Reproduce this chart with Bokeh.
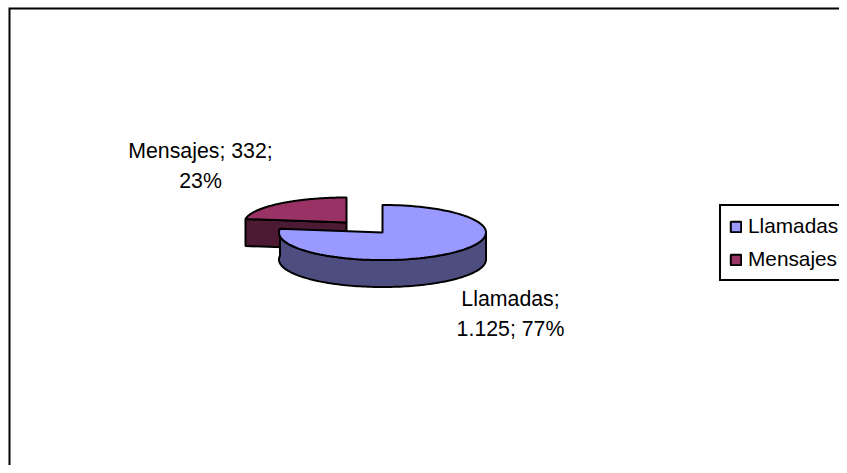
import numpy as np
from bokeh.embed import file_html
from bokeh.resources import INLINE
from bokeh.plotting import figure
from bokeh.models import Legend, LegendItem, Range1d
from bokeh.core.properties import value

categories = ["Llamadas", "Mensajes"]
values = [1125, 332]
top_colors = ["#9999FF", "#993366"]
side_colors = ["#4D4D80", "#4D1A33"]
label_lines = [["Llamadas;", "1.125; 77%"], ["Mensajes; 332;", "23%"]]

W, H = 839, 465
FONT = "Liberation Sans"
p = figure(width=W, height=H, output_backend="svg", toolbar_location=None,
           x_range=Range1d(0, W), y_range=Range1d(H, 0),
           min_border=0, outline_line_color=None, background_fill_color="white")
p.xaxis.visible = False
p.yaxis.visible = False
p.grid.visible = False

share = values[0] / sum(values)
split = 2 * np.pi * share


def rim(cx, cy, rx, ry, a0, a1, n=120):
    t = np.linspace(a0, a1, n)
    return cx + rx * np.sin(t), cy - ry * np.cos(t)


RX, RY, DEPTH = 103.5, 27.5, 27
bc = (382, 232)
rc = (346, 222)
rrx, rry = 102, 25

# chart frame (only top and left edges fall inside the picture)
p.line([9, 9, W], [H, 8, 8], line_color="black", line_width=2, line_join="miter")

# exploded small slice: side face then top
lx, ly = rim(rc[0], rc[1], rrx, rry, split, split, 1)
p.patch([lx[0], rc[0], rc[0], lx[0]], [ly[0], rc[1], rc[1] + DEPTH, ly[0] + DEPTH],
        fill_color=side_colors[1], line_color="black", line_width=2)
sx, sy = rim(rc[0], rc[1], rrx, rry, split, 2 * np.pi)
red = p.patch(np.r_[rc[0], sx], np.r_[rc[1], sy], fill_color=top_colors[1],
              line_color="black", line_width=2)

# large slice: rim then top
ox, oy = rim(bc[0], bc[1], RX, RY, np.pi / 2, split)
p.patch(np.r_[ox, ox[::-1]], np.r_[oy, oy[::-1] + DEPTH], fill_color=side_colors[0],
        line_color="black", line_width=2)
tx, ty = rim(bc[0], bc[1], RX, RY, 0, split)
blue = p.patch(np.r_[bc[0], tx], np.r_[bc[1], ty], fill_color=top_colors[0],
               line_color="black", line_width=2)

# data labels
label_at = [(510, [298, 328]), (200, [150, 180])]
for lines, (x, ys) in zip(label_lines, label_at):
    p.text([x] * len(lines), ys, text=lines, text_align="center", text_baseline="middle",
           text_font=value(FONT), text_font_size="21.3px", text_color="black")

legend = Legend(items=[LegendItem(label=c, renderers=[r]) for c, r in zip(categories, [blue, red])],
                location=(719, 184), orientation="vertical",
                label_text_font=FONT, label_text_font_size="20.8px", label_text_color="black",
                glyph_width=13, glyph_height=13, label_standoff=6, spacing=9,
                padding=8, margin=0,
                border_line_color="black", border_line_width=2, border_line_alpha=1,
                background_fill_color="white", background_fill_alpha=1)
p.add_layout(legend, "center")

open("out.html", "w").write(file_html(p, INLINE))
